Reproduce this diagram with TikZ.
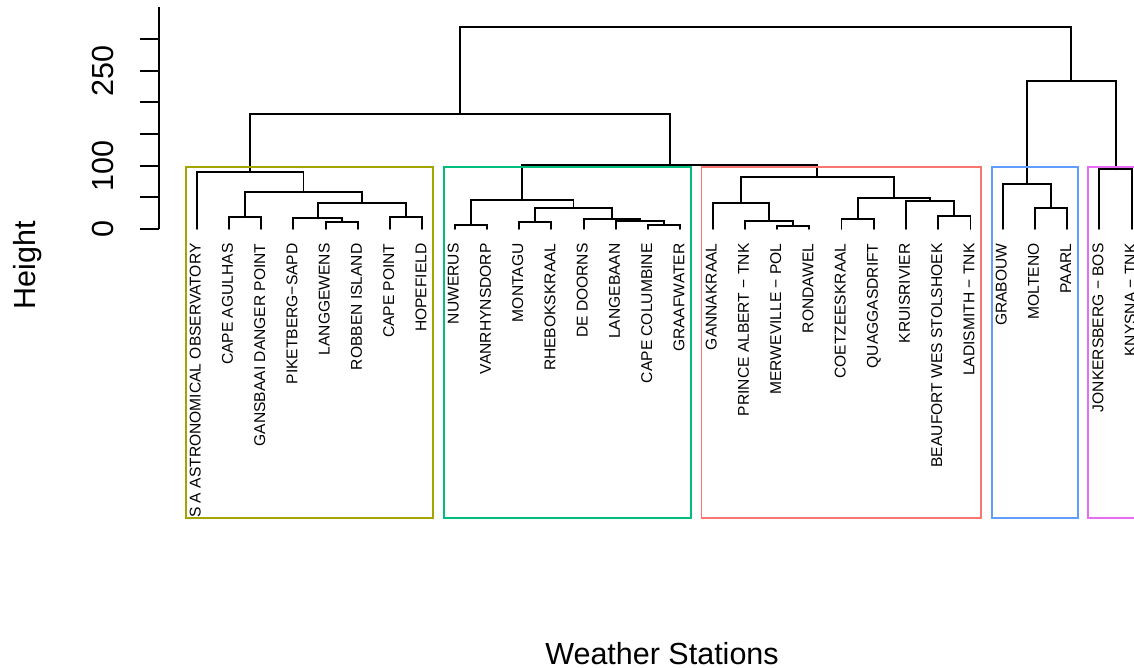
\documentclass[tikz,border=0pt]{standalone}
\usepackage{fontspec}
\setmainfont{Liberation Sans}
\definecolor{clyellow}{HTML}{A3A500}
\definecolor{clgreen}{HTML}{00BF7D}
\definecolor{clred}{HTML}{F8766D}
\definecolor{clblue}{HTML}{619CFF}
\definecolor{clmagenta}{HTML}{E76BF3}
\begin{document}
\begin{tikzpicture}[x=1pt,y=-1pt,
        branch/.style={draw,line width=1.9pt,line cap=round},
        clusterbox/.style={draw,line width=1.9pt},
        station/.style={rotate=90,anchor=base east,inner sep=0pt,font=\fontsize{15.6}{18}\selectfont},
        ticklabel/.style={rotate=90,anchor=base,inner sep=0pt,font=\fontsize{30.5}{36}\selectfont},
        axistitle/.style={inner sep=0pt,font=\fontsize{30.5}{36}\selectfont}]
        \useasboundingbox (0,0) rectangle (1134,668);
        \clip (0,0) rectangle (1134,668);

        % leaves and station names
        \foreach \name [count=\i from 0] in {S A ASTRONOMICAL OBSERVATORY, CAPE AGULHAS,
                GANSBAAI DANGER POINT, PIKETBERG−SAPD, LANGGEWENS, ROBBEN ISLAND, CAPE POINT,
                HOPEFIELD, NUWERUS, VANRHYNSDORP, MONTAGU, RHEBOKSKRAAL, DE DOORNS, LANGEBAAN,
                CAPE COLUMBINE, GRAAFWATER, GANNAKRAAL, PRINCE ALBERT − TNK, MERWEVILLE − POL,
                RONDAWEL, COETZEESKRAAL, QUAGGASDRIFT, KRUISRIVIER, BEAUFORT WES STOLSHOEK,
                LADISMITH − TNK, GRABOUW, MOLTENO, PAARL, JONKERSBERG − BOS, KNYSNA − TNK} {
            \coordinate (l\i) at (196.7+32.24*\i,229);
            \node[station] (s\i) at (200.7+32.24*\i,243.3) {\name};
        }

        % merges
        \coordinate (a1) at (245.1,217.3);
        \coordinate (a2) at (341.8,221.7);
        \coordinate (a3) at (317.6,218.3);
        \coordinate (a4) at (406.3,217.3);
        \coordinate (a5) at (362.0,203.3);
        \coordinate (a6) at (303.5,192.3);
        \coordinate (a7) at (250.1,171.7);
        \coordinate (b1) at (470.8,225);
        \coordinate (b2) at (535.2,221.7);
        \coordinate (b3) at (664.2,225);
        \coordinate (b4) at (640.0,221);
        \coordinate (b5) at (611.8,219.3);
        \coordinate (b6) at (573.5,208.3);
        \coordinate (b7) at (522.1,200.3);
        \coordinate (c1) at (793.2,226);
        \coordinate (c2) at (769.0,220.7);
        \coordinate (c3) at (740.8,203.3);
        \coordinate (c4) at (857.6,219.3);
        \coordinate (c5) at (954.4,215.7);
        \coordinate (c6) at (930.2,201);
        \coordinate (c7) at (893.9,197.7);
        \coordinate (c8) at (817.3,176.7);
        \coordinate (d1) at (1051.1,207.7);
        \coordinate (d2) at (1026.9,183.7);
        \coordinate (e1) at (1115.6,169.3);
        \coordinate (f1) at (669.7,165);
        \coordinate (f2) at (459.9,114);
        \coordinate (f3) at (1071.2,80.7);
        \coordinate (root) at (765.6,26.7);

        \path[branch] (l1) |- (a1) -| (l2);
        \path[branch] (l4) |- (a2) -| (l5);
        \path[branch] (l3) |- (a3) -| (a2);
        \path[branch] (l6) |- (a4) -| (l7);
        \path[branch] (a3) |- (a5) -| (a4);
        \path[branch] (a1) |- (a6) -| (a5);
        \path[branch] (l0) |- (a7) -| (a6);
        \path[branch] (l8) |- (b1) -| (l9);
        \path[branch] (l10) |- (b2) -| (l11);
        \path[branch] (l14) |- (b3) -| (l15);
        \path[branch] (l13) |- (b4) -| (b3);
        \path[branch] (l12) |- (b5) -| (b4);
        \path[branch] (b2) |- (b6) -| (b5);
        \path[branch] (b1) |- (b7) -| (b6);
        \path[branch] (l18) |- (c1) -| (l19);
        \path[branch] (l17) |- (c2) -| (c1);
        \path[branch] (l16) |- (c3) -| (c2);
        \path[branch] (l20) |- (c4) -| (l21);
        \path[branch] (l23) |- (c5) -| (l24);
        \path[branch] (l22) |- (c6) -| (c5);
        \path[branch] (c4) |- (c7) -| (c6);
        \path[branch] (c3) |- (c8) -| (c7);
        \path[branch] (l26) |- (d1) -| (l27);
        \path[branch] (l25) |- (d2) -| (d1);
        \path[branch] (l28) |- (e1) -| (l29);
        \path[branch] (b7) |- (f1) -| (c8);
        \path[branch] (a7) |- (f2) -| (f1);
        \path[branch] (d2) |- (f3) -| (e1);
        \path[branch] (f2) |- (root) -| (f3);

        % cluster boxes
        \path[clusterbox,clyellow] (185.7,166.7) rectangle (433.0,517.7);
        \path[clusterbox,clgreen] (443.6,166.7) rectangle (690.9,517.7);
        \path[clusterbox,clred] (701.5,166.7) rectangle (981.1,517.7);
        \path[clusterbox,clblue] (991.7,166.7) rectangle (1077.8,517.7);
        \path[clusterbox,clmagenta] (1088.4,166.7) rectangle (1142.3,517.7);

        % axis
        \path[draw,line width=1.9pt] (159.3,7.3) -- (159.3,229);
        \foreach \k in {0,...,6}
            \path[draw,line width=1.9pt] (140,229-31.67*\k) -- (159.3,229-31.67*\k);
        \node[ticklabel] (t0) at (113,229) {0};
        \node[ticklabel] (t100) at (113,165.7) {100};
        \node[ticklabel] (t250) at (113,70.7) {250};

        \node[axistitle,rotate=90,anchor=base] (ylab) at (35.5,265) {Height};
        \node[axistitle,anchor=base] (xlab) at (662,664) {Weather Stations};
    \end{tikzpicture}
\end{document}
